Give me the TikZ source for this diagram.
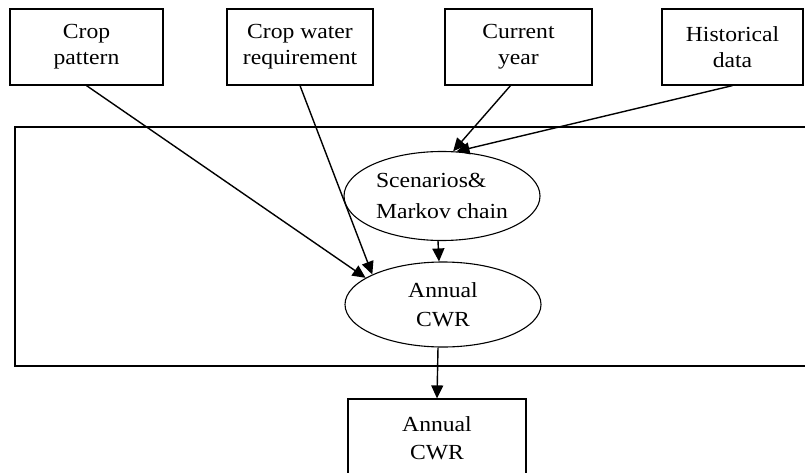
\documentclass[tikz,border=0pt]{standalone}
\usepackage{fontspec}
\setmainfont{Liberation Serif}[FakeStretch=1.1]
\usetikzlibrary{shapes.geometric,arrows.meta}
\tikzstyle{box}=[rectangle,draw=black,line width=1.2pt,inner sep=0pt,
  align=center,font=\fontsize{21.5}{26}\selectfont]
\tikzstyle{oval}=[ellipse,draw=black,line width=1.1pt,inner sep=0pt,
  minimum width=196pt,font=\fontsize{21.5}{29}\selectfont]
\tikzstyle{flow}=[line width=1.4pt,-{Triangle[length=13pt,width=12pt]}]

\begin{document}
\begin{tikzpicture}[x=1pt,y=-1pt]
        \useasboundingbox (0,0) rectangle (805,473);
        \clip (0,0) rectangle (805,473);
        \fill [white] (0,0) rectangle (805,473);
        \node [style=box,minimum width=815pt,minimum height=239pt] (frame) at (422.5,246.5) {};
        \node [style=box,minimum width=153pt,minimum height=76pt] (cp) at (86.5,47) {Crop\\pattern};
        \node [style=box,minimum width=146pt,minimum height=76pt] (cwr) at (300,47) {Crop water\\requirement};
        \node [style=box,minimum width=147pt,minimum height=76pt] (cy) at (518.5,47) {Current\\year};
        \node [style=box,minimum width=141pt,minimum height=76pt] (hd) at (732.5,47) {Historical\\data};
        \node [style=oval,minimum height=89pt,align=left,font=\fontsize{21.5}{31}\selectfont] (scen) at (442,196) {Scenarios\&\\Markov chain};
        \node [style=oval,minimum height=85pt,align=center] (ann) at (443,304.5) {Annual\\CWR};
        \node [style=box,minimum width=178pt,minimum height=79pt,font=\fontsize{21.5}{28}\selectfont] (out) at (437,438.5) {Annual\\CWR};
        \draw [style=flow] (cp.south) to (ann.161);
        \draw [style=flow] (cwr.south) to (ann.157);
        \draw [style=flow] ([xshift=-8pt]cy.south) to (scen.76);
        \draw [style=flow] (hd.south) to (scen.72);
        \draw [style=flow] ([xshift=-4pt]scen.south) to ([xshift=-4pt]ann.north);
        \draw [style=flow] ([xshift=-5pt]ann.south) to (out.north);
    \end{tikzpicture}
\end{document}
